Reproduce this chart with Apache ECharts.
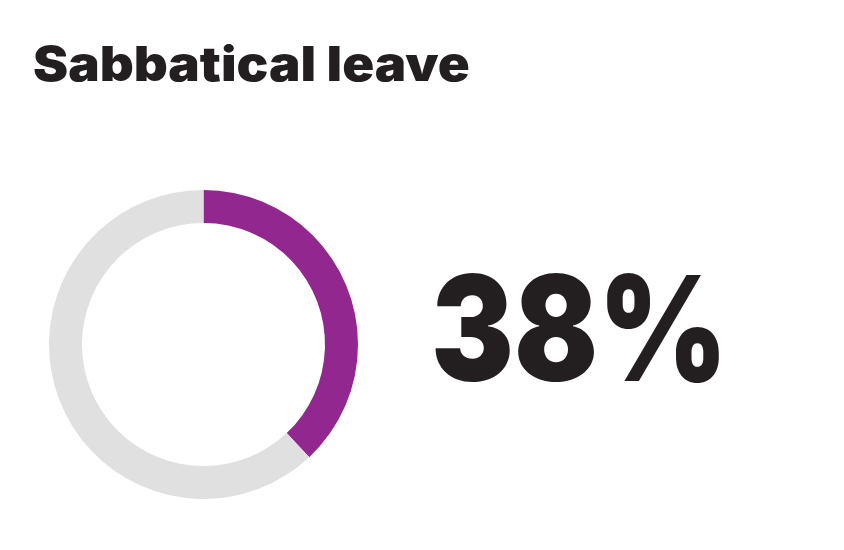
<!DOCTYPE html>
<html>
<head>
<meta charset="utf-8">
<script src="https://cdn.jsdelivr.net/npm/echarts@6/dist/echarts.min.js"></script>
<style>
  html, body { margin: 0; padding: 0; background: #ffffff; }
  #chart { width: 844px; height: 550px; }
</style>
</head>
<body>
<div id="chart"></div>
<script>
const chartTitle = 'Sabbatical leave';
const categories = ['Sabbatical leave', 'Other'];
const values = [38, 62];
const colors = ['#92278f', '#e0e0e0'];

const chart = echarts.init(document.getElementById('chart'), null, { renderer: 'canvas' });
const total = values.reduce((a, b) => a + b, 0);
const pctLabel = Math.round(values[0] / total * 100) + '%';

chart.setOption({
  backgroundColor: '#ffffff',
  animation: false,
  graphic: [
    {
      type: 'text', x: 33, y: 43, scaleX: 1.1, scaleY: 1,
      style: { text: chartTitle, fill: '#231f20', font: '900 48px Inter', textAlign: 'left', textVerticalAlign: 'top' }
    },
    {
      type: 'text', x: 431, y: 264, scaleX: 0.85, scaleY: 1,
      style: { text: pctLabel, fill: '#231f20', font: '900 146px Inter', textAlign: 'left', textVerticalAlign: 'top' }
    }
  ],
  series: [{
    type: 'pie',
    center: [203.5, 344.5],
    radius: [121.5, 154.5],
    startAngle: 90,
    clockwise: true,
    silent: true,
    label: { show: false },
    labelLine: { show: false },
    itemStyle: { borderWidth: 0 },
    emphasis: { disabled: true },
    data: categories.map((c, i) => ({ name: c, value: values[i], itemStyle: { color: colors[i] } }))
  }]
});
</script>
</body>
</html>
